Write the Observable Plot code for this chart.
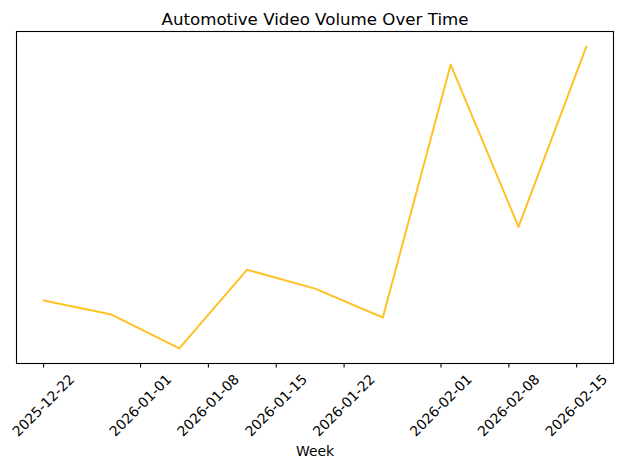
<!DOCTYPE html>
<html>
<head>
<meta charset="utf-8">
<script src="https://cdn.jsdelivr.net/npm/d3@7"></script>
<script src="https://cdn.jsdelivr.net/npm/@observablehq/plot@0.6"></script>
<style>
  html, body { margin: 0; padding: 0; background: #fff; }
  #chart svg { display: block; }
</style>
</head>
<body>
<div id="chart"></div>
<script>
const weeks = ["2025-12-22","2025-12-29","2026-01-05","2026-01-12","2026-01-19","2026-01-26","2026-02-02","2026-02-09","2026-02-16"];
const volumes = [63, 49, 15, 94, 75, 46, 300, 137, 318];
const tickLabels = ["2025-12-22","2026-01-01","2026-01-08","2026-01-15","2026-01-22","2026-02-01","2026-02-08","2026-02-15"];
const titleText = "Automotive Video Volume Over Time";
const xLabel = "Week";

const data = weeks.map((w, i) => ({week: new Date(w + "T00:00:00Z"), value: volumes[i]}));
const ticks = tickLabels.map(t => new Date(t + "T00:00:00Z"));

// matplotlib-style 5% margins
const xMin = d3.min(data, d => +d.week), xMax = d3.max(data, d => +d.week);
const xPad = (xMax - xMin) * 0.05;
const yMin = d3.min(volumes), yMax = d3.max(volumes);
const yPad = (yMax - yMin) * 0.05;

const chart = Plot.plot({
  width: 622,
  height: 469,
  marginLeft: 16,
  marginRight: 9,
  marginTop: 31,
  marginBottom: 106,
  style: {fontFamily: "DejaVu Sans", fontSize: "13.89px", color: "black", background: "white"},
  x: {type: "utc", domain: [new Date(xMin - xPad), new Date(xMax + xPad)]},
  y: {domain: [yMin - yPad, yMax + yPad], axis: null},
  marks: [
    Plot.line(data, {x: "week", y: "value", stroke: "#FFC125", strokeWidth: 2}),
    Plot.frame({stroke: "black", strokeWidth: 1.1}),
    Plot.axisX({ticks: ticks, tickSize: 4.5, strokeWidth: 1.1, tickFormat: () => "", label: null}),
    Plot.text(tickLabels, {
      x: (d, i) => ticks[i], text: d => d, frameAnchor: "bottom",
      rotate: -45, textAnchor: "middle", lineAnchor: "middle", dy: 42, fontSize: 13.89, fill: "black"
    }),
    Plot.text([xLabel], {frameAnchor: "bottom", text: d => d, dy: 88, lineAnchor: "middle", fontSize: 13.89, fill: "black"}),
    Plot.text([titleText], {frameAnchor: "top", text: d => d, dy: -12, lineAnchor: "middle", fontSize: 16.67, fill: "black"})
  ]
});
document.getElementById("chart").appendChild(chart);
</script>
</body>
</html>
